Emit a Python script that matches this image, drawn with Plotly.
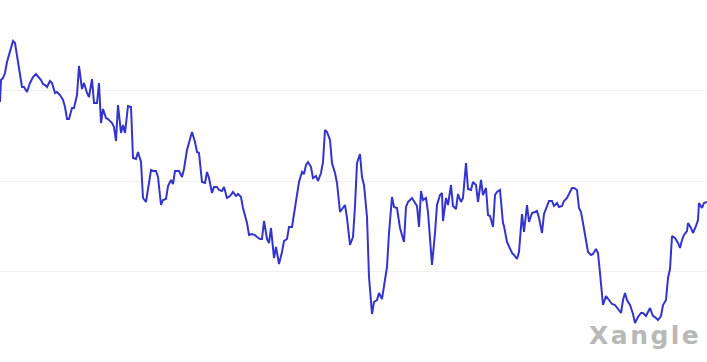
import plotly.graph_objects as go

# time positions (arbitrary units) and series values
t = [0,1,3,5,7,9,13,15,17,19,22,24,27,30,33,36,38,41,43,45,47,50,52,55,57,60,63,65,67,69,
     72,74,77,79,82,84,87,89,92,94,97,99,101,103,106,108,112,114,116,118,121,123,125,128,131,133,136,138,141,143,
     146,151,153,156,158,161,163,166,168,171,173,175,177,179,182,184,187,190,192,195,197,199,202,205,207,209,212,214,217,219,
     222,224,227,230,233,236,238,241,243,247,249,252,255,257,260,262,264,267,269,271,274,276,279,282,284,287,289,292,296,299,
     302,304,306,308,311,313,316,318,321,323,325,327,330,332,335,337,340,343,345,347,350,353,355,357,360,362,364,367,369,372,
     374,377,379,382,384,387,389,392,394,397,400,404,406,408,412,415,417,419,421,423,426,428,432,435,437,440,442,443,446,448,
     451,453,456,458,461,463,466,468,471,473,476,478,481,483,486,488,490,493,495,497,500,503,504,507,509,512,514,517,519,522,
     524,527,529,532,535,537,539,542,544,547,549,552,554,557,559,562,564,567,569,572,574,577,579,581,583,586,588,591,593,596,
     598,600,603,606,609,612,615,617,621,623,625,627,630,633,635,638,641,643,646,648,650,653,655,658,661,663,666,668,670,672,
     675,678,680,682,684,687,688,691,693,696,698,699,702,704,707]
values = [260,282,284,289,300,307,321,319,305,295,275,275,270,279,285,288,286,282,278,277,275,281,279,269,270,267,262,255,243,243,
          254,254,267,296,273,279,269,265,283,259,259,279,239,253,244,243,239,235,221,257,229,237,229,256,255,204,203,210,200,164,
          160,192,191,191,185,157,162,163,176,182,178,191,191,191,185,193,212,222,230,220,210,209,180,179,190,184,169,175,175,172,
          171,175,164,166,170,166,168,165,154,139,127,128,127,125,123,123,141,123,119,134,104,115,98,110,121,123,135,135,159,180,
          190,188,197,200,195,184,186,181,189,200,232,230,222,199,189,179,150,155,157,144,117,125,156,199,208,185,177,145,85,48,
          60,62,69,63,75,95,129,165,155,154,134,120,155,160,164,159,156,135,171,162,164,150,97,129,157,167,169,141,164,157,
          177,156,153,168,160,164,199,173,172,180,177,160,182,167,174,147,146,135,167,170,172,139,136,120,115,109,107,103,110,148,
          130,157,140,149,150,151,144,129,148,155,161,161,156,159,155,156,161,164,168,174,174,172,154,150,139,122,110,107,108,113,
          109,89,57,66,62,58,57,54,49,62,69,62,57,48,39,45,49,49,46,50,54,46,45,42,46,57,62,84,93,126,
          124,119,114,122,127,131,139,134,129,136,142,159,154,159,160]

grid_vals = [90.5, 181, 271.5]

fig = go.Figure()
fig.add_trace(go.Scatter(x=t, y=values, mode="lines",
                         line=dict(color="rgb(52,52,204)", width=2),
                         hoverinfo="skip"))

fig.update_layout(
    width=707, height=362,
    margin=dict(l=0, r=0, t=0, b=0),
    paper_bgcolor="white", plot_bgcolor="white",
    showlegend=False,
    xaxis=dict(range=[0, 707], visible=False, showgrid=False, zeroline=False),
    yaxis=dict(range=[0, 362], tickvals=grid_vals, showticklabels=False,
               showgrid=True, gridcolor="#f0f0f0", gridwidth=1, zeroline=False,
               showline=False, ticks=""),
    annotations=[dict(text="X\u200aa\u200an\u200ag\u200al\u200ae", xref="paper", yref="paper",
                      x=0.992, y=0.072, xanchor="right", yanchor="middle",
                      showarrow=False,
                      font=dict(family="DejaVu Sans", size=25, color="#b8b8b8", weight="bold"))],
)

fig.write_html("out.html")
